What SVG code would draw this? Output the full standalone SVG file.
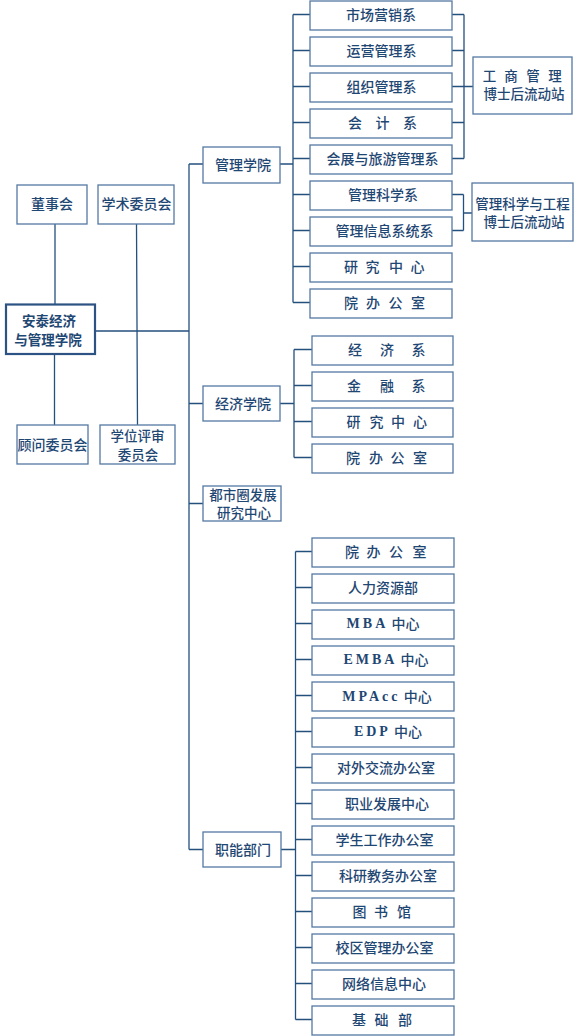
<svg xmlns="http://www.w3.org/2000/svg" width="580" height="1036" viewBox="0 0 580 1036">
<style>
.box{fill:#ffffff;stroke:#5479a3;stroke-width:1.3}
.main{fill:#ffffff;stroke:#2c5383;stroke-width:2.2}
.t{font-family:"Noto Sans CJK SC","Noto Sans",sans-serif;font-size:14px;font-weight:500;fill:#1f4774;text-anchor:middle;dominant-baseline:central}
.s{font-size:13.5px}
.b{font-weight:bold}
.lat{font-family:"Liberation Serif",serif;font-weight:bold;letter-spacing:3px}
.c{fill:none;stroke:#24507e;stroke-width:1.3}
</style>
<rect width="580" height="1036" fill="#ffffff"/>
<g id="connectors">
<path class="c" d="M55,224V304 M54.5,354V425 M136.5,224L137.5,425"/>
<path class="c" d="M95,331H189 M189,164V849.5 M189,164H203 M189,403.5H203 M189,503.5H203 M189,849.5H203"/>
<path class="c" d="M280,164H293 M293,14.5V302.5 M293,14.5H310 M293,50.5H310 M293,86.5H310 M293,122.5H310 M293,158.5H310 M293,194.5H310 M293,230.5H310 M293,266.5H310 M293,302.5H310"/>
<path class="c" d="M452,14.5H464 M452,50.5H464 M452,86.5H464 M452,122.5H464 M452,158.5H464 M464,14.5V158.5 M464,86.5H473"/>
<path class="c" d="M452,194.5H463.5 M452,230.5H463.5 M463.5,194.5V230.5 M463.5,213H472"/>
<path class="c" d="M280,403.5H294 M294,349.5V457.5 M294,349.5H312 M294,385.5H312 M294,421.5H312 M294,457.5H312"/>
<path class="c" d="M281,849.5H295.5 M295.5,551.5V1019.5 M295.5,551.5H312 M295.5,587.5H312 M295.5,623.5H312 M295.5,659.5H312 M295.5,695.5H312 M295.5,731.5H312 M295.5,767.5H312 M295.5,803.5H312 M295.5,839.5H312 M295.5,875.5H312 M295.5,911.5H312 M295.5,947.5H312 M295.5,983.5H312 M295.5,1019.5H312"/>
</g>
<g id="dongshihui"><rect class="box" x="17" y="185" width="70" height="39"/><text class="t" x="52" y="202.5">董事会</text></g>
<g id="xueshu"><rect class="box" x="98" y="185" width="76" height="39"/><text class="t" x="136.5" y="202.5">学术委员会</text></g>
<g id="antai"><rect class="main" x="6" y="304.5" width="89" height="49.5"/><text class="t b s" x="49" y="320">安泰经济</text><text class="t b s" x="48" y="339">与管理学院</text></g>
<g id="guwen"><rect class="box" x="17" y="425" width="71" height="39"/><text class="t" x="52.5" y="443.5">顾问委员会</text></g>
<g id="xuewei"><rect class="box" x="100" y="425" width="75" height="39"/><text class="t s" x="137.5" y="435">学位评审</text><text class="t s" x="138" y="453.5">委员会</text></g>

<g id="guanli"><rect class="box" x="203" y="147" width="77" height="36"/><text class="t" x="243" y="163.5">管理学院</text></g>
<g id="m1"><rect class="box" x="310" y="1" width="142" height="29"/><text class="t" x="381" y="14">市场营销系</text></g>
<g id="m2"><rect class="box" x="310" y="37" width="142" height="29"/><text class="t" x="381.5" y="50">运营管理系</text></g>
<g id="m3"><rect class="box" x="310" y="73" width="142" height="29"/><text class="t" x="381.5" y="86">组织管理系</text></g>
<g id="m4"><rect class="box" x="310" y="109" width="142" height="29"/><text class="t" x="355 382.5 410" y="122">会计系</text></g>
<g id="m5"><rect class="box" x="310" y="145" width="142" height="29"/><text class="t" x="382.5" y="158">会展与旅游管理系</text></g>
<g id="m6"><rect class="box" x="310" y="181" width="142" height="29"/><text class="t" x="383" y="194">管理科学系</text></g>
<g id="m7"><rect class="box" x="310" y="217" width="142" height="29"/><text class="t" x="384.5" y="230">管理信息系统系</text></g>
<g id="m8"><rect class="box" x="310" y="253" width="142" height="29"/><text class="t" x="351 372.5 396 417.5" y="266">研究中心</text></g>
<g id="m9"><rect class="box" x="310" y="289" width="142" height="29"/><text class="t" x="351 373 395.5 418" y="302">院办公室</text></g>
<g id="gongshang"><rect class="box" x="473" y="57" width="99" height="57"/><text class="t s" x="489.5 511 533 555" y="74.5">工商管理</text><text class="t s" x="524" y="93">博士后流动站</text></g>
<g id="guanlikexue"><rect class="box" x="472" y="183" width="101" height="58"/><text class="t s" x="522.5" y="202.5">管理科学与工程</text><text class="t s" x="524" y="221">博士后流动站</text></g>

<g id="jingji"><rect class="box" x="203" y="386" width="77" height="35"/><text class="t" x="243" y="402.5">经济学院</text></g>
<g id="e1"><rect class="box" x="312" y="336" width="141" height="29"/><text class="t" x="355 387 418.5" y="349">经济系</text></g>
<g id="e2"><rect class="box" x="312" y="372" width="141" height="29"/><text class="t" x="354 387 418.5" y="385">金融系</text></g>
<g id="e3"><rect class="box" x="312" y="408" width="141" height="29"/><text class="t" x="353.5 376.5 398 420" y="421">研究中心</text></g>
<g id="e4"><rect class="box" x="312" y="444" width="141" height="29"/><text class="t" x="353 376 397.5 420" y="457">院办公室</text></g>

<g id="dushiquan"><rect class="box" x="203" y="486" width="78" height="35"/><text class="t s" x="243" y="493.5">都市圈发展</text><text class="t s" x="244" y="512">研究中心</text></g>

<g id="zhineng"><rect class="box" x="203" y="832" width="78" height="35"/><text class="t" x="243" y="848.5">职能部门</text></g>
<g id="f1"><rect class="box" x="312" y="538" width="142" height="29"/><text class="t" x="352 373.5 396 419.5" y="551">院办公室</text></g>
<g id="f2"><rect class="box" x="312" y="574" width="142" height="29"/><text class="t" x="383" y="587">人力资源部</text></g>
<g id="f3"><rect class="box" x="312" y="610" width="142" height="29"/><text class="t" x="383" y="623"><tspan class="lat">MBA</tspan> 中心</text></g>
<g id="f4"><rect class="box" x="312" y="646" width="142" height="29"/><text class="t" x="386" y="659"><tspan class="lat">EMBA</tspan> 中心</text></g>
<g id="f5"><rect class="box" x="312" y="682" width="142" height="29"/><text class="t" x="387" y="695.5"><tspan class="lat">MPAcc</tspan> 中心</text></g>
<g id="f6"><rect class="box" x="312" y="718" width="142" height="29"/><text class="t" x="388" y="731"><tspan class="lat">EDP</tspan> 中心</text></g>
<g id="f7"><rect class="box" x="312" y="754" width="142" height="29"/><text class="t" x="386" y="767">对外交流办公室</text></g>
<g id="f8"><rect class="box" x="312" y="790" width="142" height="29"/><text class="t" x="387" y="803">职业发展中心</text></g>
<g id="f9"><rect class="box" x="312" y="826" width="142" height="29"/><text class="t" x="384.5" y="839">学生工作办公室</text></g>
<g id="f10"><rect class="box" x="312" y="862" width="142" height="29"/><text class="t" x="388" y="875">科研教务办公室</text></g>
<g id="f11"><rect class="box" x="312" y="898" width="142" height="29"/><text class="t" x="359.5 381 404" y="911">图书馆</text></g>
<g id="f12"><rect class="box" x="312" y="934" width="142" height="29"/><text class="t" x="384.5" y="947">校区管理办公室</text></g>
<g id="f13"><rect class="box" x="312" y="970" width="142" height="29"/><text class="t" x="384" y="983">网络信息中心</text></g>
<g id="f14"><rect class="box" x="312" y="1006" width="142" height="29"/><text class="t" x="359 381.5 405" y="1019">基础部</text></g>
</svg>
